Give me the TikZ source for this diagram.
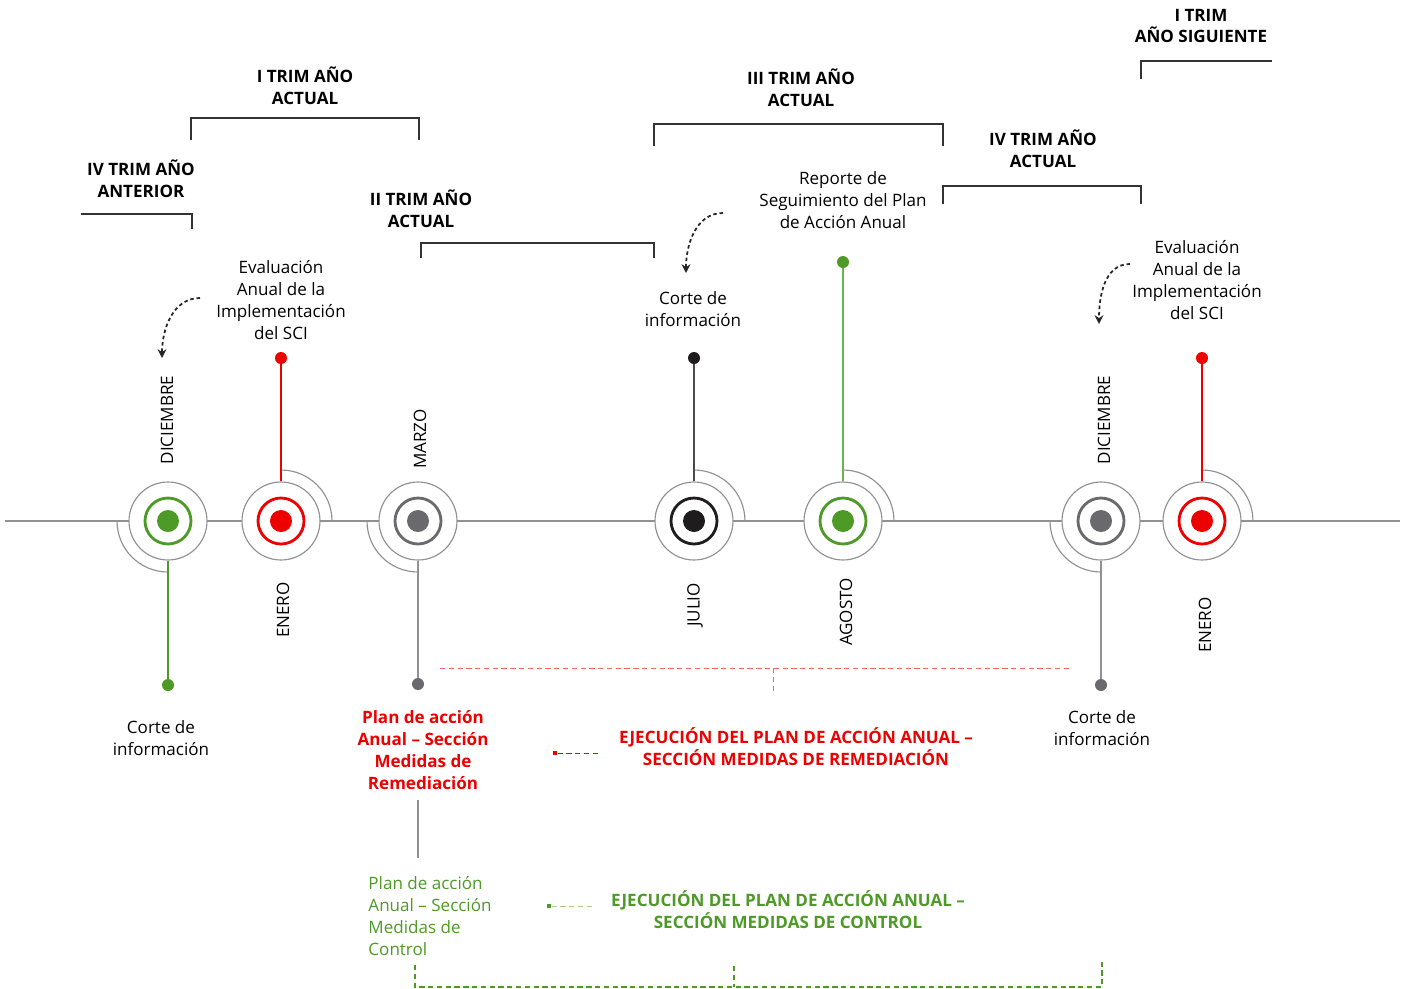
\documentclass[tikz,border=0pt]{standalone}
\usepackage{fontspec}
\setmainfont{Open Sans}
\usetikzlibrary{arrows.meta,positioning}
\definecolor{verde}{RGB}{77,154,38}
\definecolor{rojo}{RGB}{236,0,0}
\definecolor{gris}{RGB}{145,145,145}
\definecolor{grisosc}{RGB}{105,105,110}
\definecolor{negro}{RGB}{30,28,28}

\begin{document}
\begin{tikzpicture}[x=0.02cm,y=-0.02cm,>=Stealth,
    font=\fontsize{9.7}{12.5}\selectfont,
    hub/.style={circle,draw=gris,line width=0.65pt,fill=white,minimum size=1.56cm,inner sep=0pt},
    ring/.style={circle,draw=#1,line width=1.6pt,minimum size=0.92cm,inner sep=0pt},
    core/.style={circle,fill=#1,minimum size=0.44cm,inner sep=0pt},
    pin/.style={circle,fill=#1,minimum size=0.24cm,inner sep=0pt},
    arcline/.style={draw=gris,line width=0.65pt},
    month/.style={rotate=90},
    txt/.style={align=center},
    trim/.style={align=center,font=\fontsize{9.7}{12.5}\selectfont\bfseries},
    brk/.style={draw=black!80,line width=0.8pt},
    curv/.style={-{Stealth[length=5pt,width=5pt]},line width=1pt,dash pattern=on 2pt off 1.6pt,black!85}
  ]
  \useasboundingbox (0,0) rectangle (1407,988);

  % eje
  \coordinate (izq) at (5,521);
  \coordinate (der) at (1400,521);
  \draw[gris,line width=0.6pt] (izq) -- (der);

  % hitos
  \node[hub] (dicA) at (168,521) {};
  \node[ring=verde] (dicAr) at (dicA) {};
  \node[core=verde] (dicAc) at (dicA) {};

  \node[hub] (eneA) at (281,521) {};
  \node[ring=rojo] (eneAr) at (eneA) {};
  \node[core=rojo] (eneAc) at (eneA) {};

  \node[hub] (mar) at (418,521) {};
  \node[ring=grisosc] (marr) at (mar) {};
  \node[core=grisosc] (marc) at (mar) {};

  \node[hub] (jul) at (694,521) {};
  \node[ring=negro] (julr) at (jul) {};
  \node[core=negro] (julc) at (jul) {};

  \node[hub] (ago) at (843,521) {};
  \node[ring=verde] (agor) at (ago) {};
  \node[core=verde] (agoc) at (ago) {};

  \node[hub] (dicB) at (1101,521) {};
  \node[ring=grisosc] (dicBr) at (dicB) {};
  \node[core=grisosc] (dicBc) at (dicB) {};

  \node[hub] (eneB) at (1202,521) {};
  \node[ring=rojo] (eneBr) at (eneB) {};
  \node[core=rojo] (eneBc) at (eneB) {};

  % arcos
  \draw[arcline] (dicA.center) ++(180:1.02cm) arc[start angle=180,end angle=270,radius=1.02cm];
  \draw[arcline] (eneA.center) ++(90:1.02cm) arc[start angle=90,end angle=0,radius=1.02cm];
  \draw[arcline] (mar.center) ++(180:1.02cm) arc[start angle=180,end angle=270,radius=1.02cm];
  \draw[arcline] (jul.center) ++(90:1.02cm) arc[start angle=90,end angle=0,radius=1.02cm];
  \draw[arcline] (ago.center) ++(90:1.02cm) arc[start angle=90,end angle=0,radius=1.02cm];
  \draw[arcline] (dicB.center) ++(180:1.02cm) arc[start angle=180,end angle=270,radius=1.02cm];
  \draw[arcline] (eneB.center) ++(90:1.02cm) arc[start angle=90,end angle=0,radius=1.02cm];

  % varillas
  \node[pin=verde] (dicAp) at (168,685) {};
  \draw[verde,line width=0.7pt] (dicA.south) -- (dicAp);
  \node[pin=rojo] (eneAp) at (281,358) {};
  \draw[rojo,line width=0.7pt] (eneAp) -- (eneA.north);
  \node[pin=grisosc] (marp) at (418,684) {};
  \draw[gris,line width=0.8pt] (mar.south) -- (marp);
  \node[pin=negro] (julp) at (694,358) {};
  \draw[negro!80,line width=0.8pt] (julp) -- (jul.north);
  \node[pin=verde] (agop) at (843,262) {};
  \draw[verde!80,line width=0.8pt] (agop) -- (ago.north);
  \node[pin=grisosc] (dicBp) at (1101,685) {};
  \draw[gris,line width=0.8pt] (dicB.south) -- (dicBp);
  \node[pin=rojo] (eneBp) at (1202,358) {};
  \draw[rojo,line width=0.7pt] (eneBp) -- (eneB.north);

  % meses
  \node[month] (dicAm) at (167,420) {DICIEMBRE};
  \node[month] (eneAm) at (283,610) {ENERO};
  \node[month] (marm) at (420,439) {MARZO};
  \node[month] (julm) at (695,605) {JULIO};
  \node[month] (agom) at (846,612) {AGOSTO};
  \node[month] (dicBm) at (1104,420) {DICIEMBRE};
  \node[month] (eneBm) at (1205,625) {ENERO};

  % textos
  \node[txt] (evalA) at (281,300) {Evaluación\\Anual de la\\Implementación\\del SCI};
  \node[txt] (corteA) at (161,738) {Corte de\\información};
  \node[txt] (corteJ) at (693,309) {Corte de\\información};
  \node[txt] (reporte) at (843,200) {Reporte de\\Seguimiento del Plan\\de Acción Anual};
  \node[txt] (evalB) at (1197,280) {Evaluación\\Anual de la\\Implementación\\del SCI};
  \node[txt] (corteB) at (1102,728) {Corte de\\información};

  \coordinate (cA1) at (200,298);
  \coordinate (cA2) at (162,358);
  \draw[curv] (cA1) to[out=180,in=90] (cA2);
  \coordinate (cJ1) at (723,213);
  \coordinate (cJ2) at (686,273);
  \draw[curv] (cJ1) to[out=180,in=90] (cJ2);
  \coordinate (cB1) at (1130,264);
  \coordinate (cB2) at (1099,324);
  \draw[curv] (cB1) to[out=180,in=90] (cB2);

  % trimestres
  \node[trim] (t4ant) at (141,179) {IV TRIM AÑO\\ANTERIOR};
  \draw[brk] (81,214) -| (192,229);
  \node[trim] (t1) at (305,86) {I TRIM AÑO\\ACTUAL};
  \draw[brk] (191,140) |- (419,118) -- (419,140);
  \node[trim] (t2) at (421,209) {II TRIM AÑO\\ACTUAL};
  \draw[brk] (421,258) |- (654,243) -- (654,258);
  \node[trim] (t3) at (801,88) {III TRIM AÑO\\ACTUAL};
  \draw[brk] (654,146) |- (943,124) -- (943,146);
  \node[trim] (t4) at (1043,149) {IV TRIM AÑO\\ACTUAL};
  \draw[brk] (943,204) |- (1141,186) -- (1141,204);
  \node[trim] (t1sig) at (1201,26) {I TRIM\\AÑO SIGUIENTE};
  \draw[brk] (1141,79) |- (1272,61);

  % planes
  \node[trim,text=rojo] (planR) at (423,750) {Plan de acción\\Anual – Sección\\Medidas de\\Remediación};
  \draw[gris,line width=0.7pt] (418,800) -- (418,858);
  \node[align=left,text=verde] (planV) at (430,916) {Plan de acción\\Anual – Sección\\Medidas de\\Control};

  % ejecucion
  \draw[rojo!60,line width=0.5pt,dash pattern=on 3pt off 2pt] (440,668) -- (1070,668);
  \draw[rojo!60,line width=0.5pt,dash pattern=on 3pt off 2pt] (773,668) -- (773,692);
  \node[fill=rojo,minimum size=2.5pt,inner sep=0pt] (legR) at (555,753) {};
  \draw[rojo,line width=0.5pt,dash pattern=on 3pt off 2pt] (legR) -- (598,753);
  \node[trim,text=rojo] (ejeR) at (796,747) {EJECUCIÓN DEL PLAN DE ACCIÓN ANUAL –\\SECCIÓN MEDIDAS DE REMEDIACIÓN};

  \node[fill=verde,minimum size=2.5pt,inner sep=0pt] (legV) at (549,906) {};
  \draw[verde!50,line width=0.5pt,dash pattern=on 3pt off 2pt] (legV) -- (593,906);
  \node[trim,text=verde] (ejeV) at (788,910) {EJECUCIÓN DEL PLAN DE ACCIÓN ANUAL –\\SECCIÓN MEDIDAS DE CONTROL};

  \draw[verde,line width=0.7pt,dash pattern=on 3pt off 2pt] (415,965) |- (1102,987) -- (1102,962);
  \draw[verde,line width=0.7pt,dash pattern=on 3pt off 2pt] (734,966) -- (734,987);
\end{tikzpicture}
\end{document}
